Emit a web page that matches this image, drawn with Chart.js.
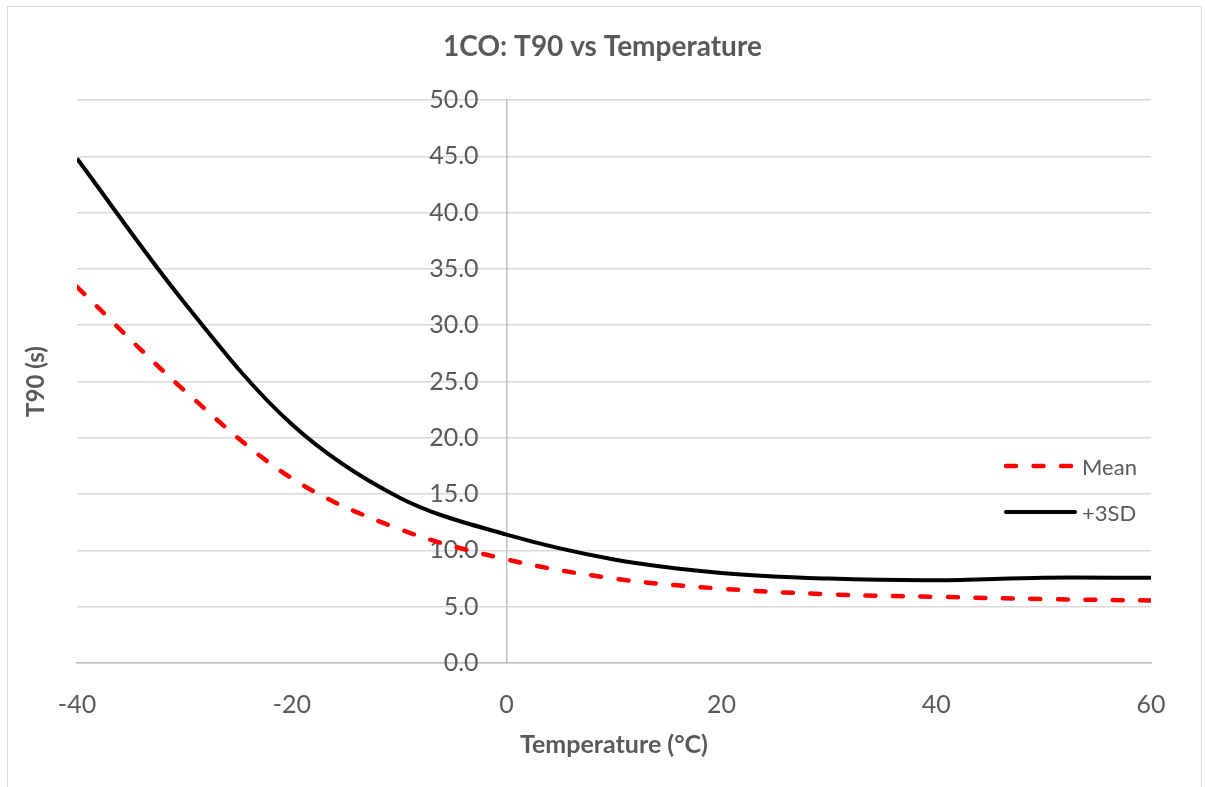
<!DOCTYPE html>
<html>
<head>
<meta charset="utf-8">
<script src="https://cdn.jsdelivr.net/npm/chart.js@4.4.1/dist/chart.umd.min.js"></script>
<style>
  html, body { margin: 0; padding: 0; background: #ffffff; }
  #wrap { position: relative; width: 1205px; height: 787px; overflow: hidden; }
  #frame { position: absolute; left: 7px; top: 6px; width: 1195px; height: 800px; border: 1px solid #d9d9d9; box-sizing: border-box; pointer-events: none; }
  #chart { position: absolute; left: 0; top: 0; }
  #legend { position: absolute; left: 1003px; top: 443px; font-family: Lato, "Open Sans", sans-serif; font-size: 22px; color: #595959; }
  .item { position: relative; height: 46px; display: flex; align-items: center; }
  .item svg { width: 75px; height: 10px; margin-right: 4px; }
</style>
</head>
<body>
<div id="wrap">
  <canvas id="chart" width="1205" height="787"></canvas>
  <div id="frame"></div>
  <div id="legend"></div>
</div>
<script>
const chartTitle = "1CO: T90 vs Temperature";
const xTitle = "Temperature (°C)";
const yTitle = "T90 (s)";
const seriesNames = ["Mean", "+3SD"];
const temperatures = [-40, -30, -20, -10, 0, 10, 20, 30, 40, 50, 60];
const meanValues = [33.4, 24.2, 16.4, 11.9, 9.2, 7.5, 6.6, 6.1, 5.88, 5.68, 5.55];
const sd3Values = [44.8, 32.0, 21.2, 14.7, 11.4, 9.2, 8.0, 7.5, 7.35, 7.58, 7.56];
const xTicks = [-40, -20, 0, 20, 40, 60];
const yTicks = [0, 5, 10, 15, 20, 25, 30, 35, 40, 45, 50];

const textColor = '#595959';
const gridColor = '#d9d9d9';

function pts(vals) { return temperatures.map((t, i) => ({ x: t, y: vals[i] })); }

const datasets = [
  { label: seriesNames[0], data: pts(meanValues), borderColor: '#ff0000', borderWidth: 4.5,
    borderDash: [10, 17.5], borderCapStyle: 'round', pointRadius: 0, tension: 0.35, fill: false, yAxisID: 'y' },
  { label: seriesNames[1], data: pts(sd3Values), borderColor: '#000000', borderWidth: 4,
    pointRadius: 0, tension: 0.35, fill: false, yAxisID: 'y' }
];

// y tick labels sit left of the crossing axis at x = 0, with a gap like the original
const shiftYLabels = {
  id: 'shiftYLabels',
  beforeDraw(chart) {
    const s = chart.scales.y;
    const items = s.getLabelItems(chart.chartArea);
    items.forEach(it => {
      if (!it._shifted) { it.options.translation[0] -= 28; it._shifted = true; }
    });
  }
};

new Chart(document.getElementById('chart'), {
  type: 'line',
  data: { datasets },
  plugins: [shiftYLabels],
  options: {
    responsive: false,
    animation: false,
    events: [],
    layout: { padding: 0 },
    plugins: {
      legend: { display: false },
      tooltip: { enabled: false },
      title: {
        display: true, text: chartTitle, color: textColor,
        font: { family: 'Lato', size: 28, weight: 'bold', lineHeight: 1.2 },
        padding: { top: 30, bottom: 36.4 }
      }
    },
    scales: {
      x: {
        type: 'linear', min: -40, max: 60,
        afterBuildTicks: s => { s.ticks = xTicks.map(v => ({ value: v })); },
        afterFit: s => { s.height = 124; },
        grid: { display: false, drawTicks: false },
        border: { display: true, color: '#bfbfbf', width: 1.5 },
        ticks: { color: textColor, font: { family: 'Lato', size: 25 }, padding: 27, maxRotation: 0 },
        title: { display: true, text: xTitle, color: textColor,
          font: { family: 'Lato', size: 25, weight: 'bold', lineHeight: 1.2 }, padding: { top: 0, bottom: 27 } }
      },
      y: {
        type: 'linear', min: 0, max: 50, position: { x: 0 },
        afterBuildTicks: s => { s.ticks = yTicks.map(v => ({ value: v })); },
        grid: { color: gridColor, lineWidth: 1.5, drawTicks: false },
        border: { display: true, color: '#bfbfbf', width: 1.5 },
        ticks: { color: textColor, font: { family: 'Lato', size: 25 }, padding: 0,
          callback: v => Number(v).toFixed(1) }
      },
      yTitle: {
        type: 'linear', position: 'left', min: 0, max: 1,
        afterFit: s => { s.width = 77; },
        grid: { display: false, drawTicks: false },
        border: { display: false },
        ticks: { display: false },
        title: { display: true, text: yTitle, color: textColor,
          font: { family: 'Lato', size: 24, weight: 'bold', lineHeight: 1.2 }, padding: { top: 22, bottom: 0 } }
      },
      yRight: {
        type: 'linear', position: 'right', min: 0, max: 1,
        afterFit: s => { s.width = 54; },
        grid: { display: false, drawTicks: false },
        border: { display: false },
        ticks: { display: false }
      }
    }
  }
});

// legend built from dataset definitions
const legend = document.getElementById('legend');
datasets.forEach(ds => {
  const item = document.createElement('div');
  item.className = 'item';
  const dash = ds.borderDash ? `stroke-dasharray="${ds.borderDash.join(' ')}"` : '';
  item.innerHTML = `<svg viewBox="0 0 75 10"><line x1="3" y1="5" x2="72" y2="5" stroke="${ds.borderColor}" stroke-width="${ds.borderWidth}" stroke-linecap="round" ${dash}/></svg><span>${ds.label}</span>`;
  legend.appendChild(item);
});
</script>
</body>
</html>
